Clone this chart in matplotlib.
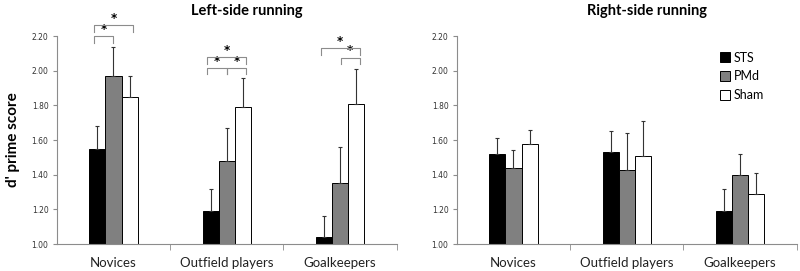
import numpy as np
import matplotlib
matplotlib.use("Agg")
import matplotlib.pyplot as plt

plt.rcParams["font.family"] = ["Lato", "DejaVu Sans"]

# data
categories = ["Novices", "Outfield players", "Goalkeepers"]
conditions = ["STS", "PMd", "Sham"]
cond_colors = ["#000000", "#808080", "#ffffff"]

left_means = {
    "STS": [1.55, 1.19, 1.04],
    "PMd": [1.97, 1.48, 1.35],
    "Sham": [1.85, 1.79, 1.81],
}
left_errs = {
    "STS": [0.13, 0.13, 0.12],
    "PMd": [0.17, 0.19, 0.21],
    "Sham": [0.12, 0.17, 0.20],
}
right_means = {
    "STS": [1.52, 1.53, 1.19],
    "PMd": [1.44, 1.43, 1.40],
    "Sham": [1.58, 1.51, 1.29],
}
right_errs = {
    "STS": [0.09, 0.12, 0.13],
    "PMd": [0.10, 0.21, 0.12],
    "Sham": [0.08, 0.20, 0.12],
}

# significance brackets on left panel: (category, cond_a, cond_b, height)
left_sig = [
    (0, 0, 1, 2.20),
    (0, 0, 2, 2.263),
    (1, 0, 2, 2.077),
    (1, 0, 1, 2.017),
    (1, 1, 2, 2.017),
    (2, 0, 2, 2.129),
    (2, 1, 2, 2.075),
]

BAR_W = 0.142
GRAY = "#8c8c8c"


def drawPanel(ax, means, errs, title):
    x = np.arange(len(categories))
    for i, cond in enumerate(conditions):
        pos = x + (i - 1) * BAR_W
        ax.bar(pos, np.array(means[cond]) - 1.0, bottom=1.0, width=BAR_W,
               color=cond_colors[i], edgecolor="black", linewidth=0.7,
               label=cond, zorder=2)
        ax.errorbar(pos, means[cond], yerr=[np.zeros(3), errs[cond]],
                    fmt="none", ecolor="#333333", elinewidth=0.8,
                    capsize=1.5, capthick=0.8, zorder=3)
    ax.set_xlim(-0.5, 2.5)
    ax.set_ylim(1.0, 2.2)
    yt = np.arange(1.0, 2.21, 0.2)
    ax.set_yticks(yt)
    ax.set_yticklabels([f"{v:.2f}" for v in yt], fontsize=5.5,
                       family="DejaVu Sans", color="#333333")
    ax.set_xticks(x)
    ax.set_xticklabels(categories, fontsize=9.5, color="#222222")
    ax.tick_params(axis="x", which="major", length=0, pad=9)
    ax.set_xticks([0.5, 1.5, 2.5], minor=True)
    ax.tick_params(axis="x", which="minor", length=4, color=GRAY)
    ax.tick_params(axis="y", length=3, color=GRAY, pad=3)
    for s in ["top", "right"]:
        ax.spines[s].set_visible(False)
    for s in ["left", "bottom"]:
        ax.spines[s].set_color(GRAY)
        ax.spines[s].set_linewidth(0.8)
    ax.set_title(title, fontsize=10.5, fontweight="bold", x=0.56, y=1.06)


fig = plt.figure(figsize=(8, 2.71), dpi=100)
axL = fig.add_axes([0.071, 0.0996, 0.425, 0.767])
axR = fig.add_axes([0.571, 0.0996, 0.425, 0.767])

drawPanel(axL, left_means, left_errs, "Left-side running")
drawPanel(axR, right_means, right_errs, "Right-side running")

axL.set_ylabel("d' prime score", fontsize=11, fontweight="bold", labelpad=8)

# significance brackets
leg = 0.037
for cat, a, b, h in left_sig:
    xa = cat + (a - 1) * BAR_W - 0.03
    xb = cat + (b - 1) * BAR_W + (0.03 if b == 2 else 0.0)
    if a == 1:
        xa = cat + 0.005
    axL.plot([xa, xa, xb, xb], [h - leg, h, h, h - leg], color=GRAY,
             linewidth=0.8, clip_on=False, zorder=4)
    axL.text((xa + xb) / 2, h + 0.002, "*", ha="center", va="bottom",
             fontsize=8.5, fontweight="bold", family="DejaVu Sans",
             clip_on=False)

axR.legend(loc="upper left", bbox_to_anchor=(0.74, 0.98), frameon=False,
           fontsize=9, handlelength=0.8, handleheight=0.8,
           handletextpad=0.3, labelspacing=0.55)

fig.savefig("out.png", dpi=100)
